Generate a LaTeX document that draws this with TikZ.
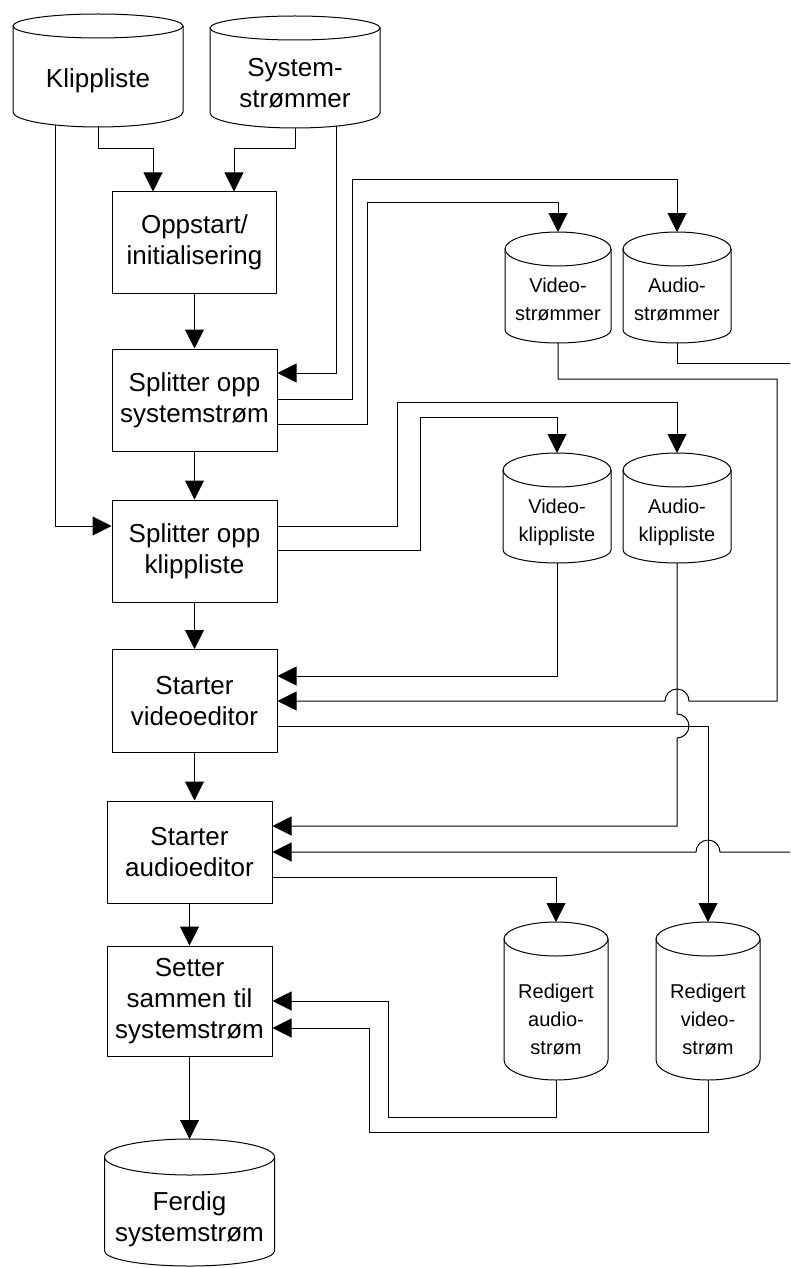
\documentclass[tikz,border=0pt]{standalone}
\usepackage{fontspec}
\setmainfont{Liberation Sans}
\usetikzlibrary{arrows.meta,calc}

\newcommand\lblbig{\fontsize{26}{31}\selectfont}
\newcommand\lblsmall{\fontsize{20}{28}\selectfont}

\tikzset{
  outline/.style={draw=black, line width=1pt},
  drumbox/.style={draw=none, rectangle, inner sep=0pt, outer sep=0pt},
  stepbox/.style={draw=black, line width=1pt, rectangle, inner sep=0pt, align=center, font=\lblbig},
  bigtext/.style={align=center, inner sep=0pt, font=\lblbig},
  smalltext/.style={align=center, inner sep=0pt, font=\lblsmall},
  conn/.style={draw=black, line width=1pt},
  arr/.style={conn, -{Triangle[length=19pt, width=19pt]}},
}

% data store drawn as a drum: name, centre x, top y, bottom y, half width, lid radius, base depth
\newcommand\drumshape[7]{%
  \pgfmathsetmacro\drH{#4-#3}%
  \pgfmathsetmacro\drW{2*#5}%
  \pgfmathsetmacro\drM{(#3+#4)/2}%
  \node[drumbox, minimum width=\drW pt, minimum height=\drH pt] (#1) at (#2,\drM) {};
  \draw[outline] (#2,#3+#6) ellipse [x radius=#5pt, y radius=#6pt];
  \draw[outline] (#2-#5,#3+#6) -- (#2-#5,#4-#7)
    arc [start angle=180, end angle=360, x radius=#5pt, y radius=#7pt] -- (#2+#5,#3+#6);
}

\begin{document}
\begin{tikzpicture}[x=1pt, y=-1pt]
\useasboundingbox (0,0) rectangle (790,1268);

% data stores
\drumshape{klipp}{98}{14}{127}{85}{12}{15}
\drumshape{sysstr}{295}{16}{128}{85}{12}{15}
\drumshape{vstr}{558}{232}{343}{53}{17}{13}
\drumshape{astr}{677}{232}{343}{54}{17}{13}
\drumshape{vklipp}{557}{453}{563}{54}{17}{13}
\drumshape{aklipp}{677}{453}{563}{54}{17}{13}
\drumshape{raud}{556}{922}{1080}{52}{17}{20}
\drumshape{rvid}{708}{922}{1080}{52}{17}{20}
\drumshape{ferdig}{189.5}{1139}{1266}{85}{18}{15}

\node[bigtext] (klipp-l) at (98,81) {Klippliste};
\node[bigtext] (sysstr-l) at (295,83) {System-\\strømmer};
\node[smalltext] (vstr-l) at (558,299) {Video-\\strømmer};
\node[smalltext] (astr-l) at (677,299) {Audio-\\strømmer};
\node[smalltext] (vklipp-l) at (557,522) {Video-\\klippliste};
\node[smalltext] (aklipp-l) at (677,522) {Audio-\\klippliste};
\node[smalltext] (raud-l) at (556,1019) {Redigert\\audio-\\strøm};
\node[smalltext] (rvid-l) at (708,1019) {Redigert\\video-\\strøm};
\node[bigtext] (ferdig-l) at (189.5,1219) {Ferdig\\systemstrøm};

% process steps
\node[stepbox, minimum width=164pt, minimum height=101pt] (oppstart) at (194.5,242.5) {Oppstart/\\initialisering};
\node[stepbox, minimum width=165pt, minimum height=102pt] (splitsys) at (194.5,400) {Splitter opp\\systemstrøm};
\node[stepbox, minimum width=165pt, minimum height=102pt] (splitklipp) at (194.5,551) {Splitter opp\\klippliste};
\node[stepbox, minimum width=165pt, minimum height=103pt] (vedit) at (194.5,701) {Starter\\videoeditor};
\node[stepbox, minimum width=165pt, minimum height=102pt] (aedit) at (189.5,852) {Starter\\audioeditor};
\node[stepbox, minimum width=165pt, minimum height=110pt] (merge) at (189.5,1001) {Setter\\sammen til\\systemstrøm};

% free ends
\coordinate (klippL) at (55,125);
\coordinate (sysR) at (336,126);
\coordinate (edgeA) at (790,363);
\coordinate (edgeB) at (790,852);

% main flow
\draw[arr] (klipp.south) |- (153,149) -- ([xshift=-41.5pt]oppstart.north);
\draw[arr] (sysstr.south) |- (234,149) -- ([xshift=39.5pt]oppstart.north);
\draw[arr] (klippL) |- ([yshift=25pt]splitklipp.west);
\draw[arr] (sysR) |- ([yshift=27pt]splitsys.east);
\draw[arr] (oppstart.south) -- (splitsys.north);
\draw[arr] (splitsys.south) -- (splitklipp.north);
\draw[arr] (splitklipp.south) -- (vedit.north);
\draw[arr] (vedit.south) -- (vedit.south |- aedit.north);
\draw[arr] (aedit.south) -- (merge.north);
\draw[arr] (merge.south) -- (ferdig.north);

% splitting into streams and clip lists
\draw[arr] ([yshift=1pt]splitsys.east) -| (352,180) -| (astr.north);
\draw[arr] ([yshift=-24pt]splitsys.east) -| (367,202) -| (vstr.north);
\draw[arr] ([yshift=25pt]splitklipp.east) -| (397,402) -| (aklipp.north);
\draw[arr] ([yshift=1pt]splitklipp.east) -| (420,417) -| (vklipp.north);

% inputs to the editors
\draw[arr] (vstr.south) |- (777,379) |- (689,701)
  arc [start angle=0, end angle=180, radius=12pt] -- (vedit.east);
\draw[arr] (vklipp.south) |- ([yshift=25pt]vedit.east);
\draw[conn] (astr.south) |- (edgeA);
\draw[arr] (aklipp.south) -- (677,714)
  arc [start angle=90, end angle=-90, radius=12pt] |- ([yshift=26pt]aedit.east);
\draw[arr] ([yshift=-25pt]vedit.east) -| (rvid.north);
\draw[arr] (edgeB) -- (720,852)
  arc [start angle=0, end angle=180, radius=12pt] -- (aedit.east);
\draw[arr] ([yshift=-25pt]aedit.east) -| (raud.north);

% edited streams back to the multiplexer
\draw[arr] (raud.south) |- (388,1117) |- (merge.east);
\draw[arr] (rvid.south) |- (369,1132) |- ([yshift=-27pt]merge.east);
\end{tikzpicture}
\end{document}
